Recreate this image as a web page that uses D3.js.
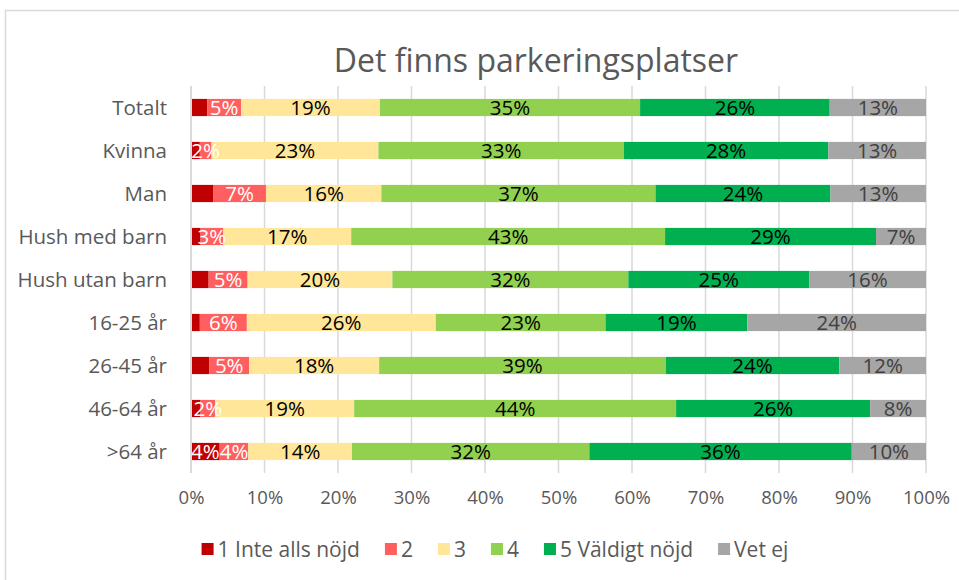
<!DOCTYPE html>
<html>
<head>
<meta charset="utf-8">
<script src="https://cdn.jsdelivr.net/npm/d3@7"></script>
<style>
  body { margin: 0; background: #fff; }
  svg text { font-family: "Open Sans", "Noto Sans", sans-serif; }
</style>
</head>
<body>
<svg id="chart" width="959" height="580"></svg>
<script>
// chart data
var categories = ["Totalt", "Kvinna", "Man", "Hush med barn", "Hush utan barn",
                  "16-25 år", "26-45 år", "46-64 år", ">64 år"];
var seriesNames = ["1 Inte alls nöjd", "2", "3", "4", "5 Väldigt nöjd", "Vet ej"];
var s1 = [2.2, 1.2, 3.0, 1.3, 2.4, 1.2, 2.5, 1.3, 3.9];
var s2 = [4.6, 1.6, 7.2, 3.1, 5.3, 6.4, 5.4, 2.0, 3.9];
var s3 = [18.9, 22.7, 15.7, 17.4, 19.7, 25.7, 17.7, 18.9, 14.1];
var s4 = [35.4, 33.4, 37.3, 42.7, 32.1, 23.1, 39.0, 43.8, 32.3];
var s5 = [25.8, 27.8, 23.8, 28.7, 24.6, 19.3, 23.6, 26.4, 35.7];
var s6 = [13.1, 13.3, 13.0, 6.8, 15.9, 24.3, 11.8, 7.6, 10.1];
var xTicks = [0, 10, 20, 30, 40, 50, 60, 70, 80, 90, 100];

//Theme colors
var colors = ["#C00000", "#FF5F5F", "#FFE699", "#92D050", "#00B050", "#A6A6A6"];
var labelColors = ["#fff", "#fff", "#000", "#000", "#000", "#404040"];
var textGray = "#595959";
var gridGray = "#d9d9d9";

var svg = d3.select("#chart");

// outer chart frame
svg.append("rect").attr("x", 5.5).attr("y", 10.5).attr("width", 1000).attr("height", 1000)
   .attr("fill", "none").attr("stroke", gridGray).attr("stroke-width", 1.5);

var all = [s1, s2, s3, s4, s5, s6];
var rows = categories.map(function(c, i) {
  var r = { cat: c };
  seriesNames.forEach(function(n, k) { r[n] = all[k][i]; });
  return r;
});

var stacked = d3.stack().keys(seriesNames)(rows);

var x = d3.scaleLinear().domain([0, 100]).range([191, 926]);
var y = d3.scaleBand().domain(categories).range([86, 473]).paddingInner(0.6).paddingOuter(0.3);

// gridlines
svg.append("g").selectAll("line").data(xTicks.slice(1)).enter().append("line")
   .attr("x1", function(d) { return x(d); }).attr("x2", function(d) { return x(d); })
   .attr("y1", 86).attr("y2", 473)
   .attr("stroke", gridGray).attr("stroke-width", 1.5);

// bars
var layers = svg.append("g").selectAll("g").data(stacked).enter().append("g")
   .attr("fill", function(d, k) { return colors[k]; });

layers.selectAll("rect").data(function(d) { return d; }).enter().append("rect")
   .attr("x", function(d) { return x(d[0]); })
   .attr("width", function(d) { return x(d[1]) - x(d[0]); })
   .attr("y", function(d) { return y(d.data.cat); })
   .attr("height", y.bandwidth());

// vertical axis line
svg.append("line").attr("x1", 191).attr("x2", 191).attr("y1", 86).attr("y2", 473)
   .attr("stroke", gridGray).attr("stroke-width", 2);

// data labels (the smallest red ones are left out, as in the original)
stacked.forEach(function(layer, k) {
  svg.append("g").selectAll("text").data(layer.filter(function(d) {
        return k > 0 || (d[1] - d[0]) >= 3.5;
      })).enter().append("text")
     .attr("x", function(d) { return (x(d[0]) + x(d[1])) / 2; })
     .attr("y", function(d) { return y(d.data.cat) + y.bandwidth() / 2 + 7.5; })
     .attr("text-anchor", "middle")
     .attr("font-size", "20.5px")
     .attr("fill", labelColors[k])
     .text(function(d) { return Math.round(d[1] - d[0]) + "%"; });
});

// category axis
var yAxis = svg.append("g").attr("transform", "translate(191,0)")
   .call(d3.axisLeft(y).tickSize(0).tickPadding(24));
yAxis.select(".domain").remove();
yAxis.selectAll("text").attr("font-size", "20.5px").attr("fill", textGray)
   .attr("font-family", "'Open Sans', sans-serif").attr("dy", "0.36em");

// value axis
var xAxis = svg.append("g").attr("transform", "translate(0,473)")
   .call(d3.axisBottom(x).tickValues(xTicks).tickSize(0).tickPadding(18)
         .tickFormat(function(d) { return d + "%"; }));
xAxis.select(".domain").remove();
xAxis.selectAll("text").attr("font-size", "18.5px").attr("fill", textGray)
   .attr("font-family", "'Open Sans', sans-serif");

// title
svg.append("text").attr("x", 536).attr("y", 72).attr("text-anchor", "middle")
   .attr("font-size", "32px").attr("fill", textGray)
   .text("Det finns parkeringsplatser");

// legend
var legend = svg.append("g");
var lx = 0;
seriesNames.forEach(function(n, k) {
  var item = legend.append("g").attr("transform", "translate(" + lx + ",0)");
  item.append("rect").attr("x", 0).attr("y", -6).attr("width", 12).attr("height", 12)
      .attr("fill", colors[k]);
  var t = item.append("text").attr("x", 16).attr("y", 7.5).attr("font-size", "21px")
      .attr("fill", textGray).text(n);
  lx += 16 + t.node().getComputedTextLength() + 25;
});
lx -= 25;
legend.attr("transform", "translate(" + (495 - lx / 2) + ",549)");
</script>
</body>
</html>
